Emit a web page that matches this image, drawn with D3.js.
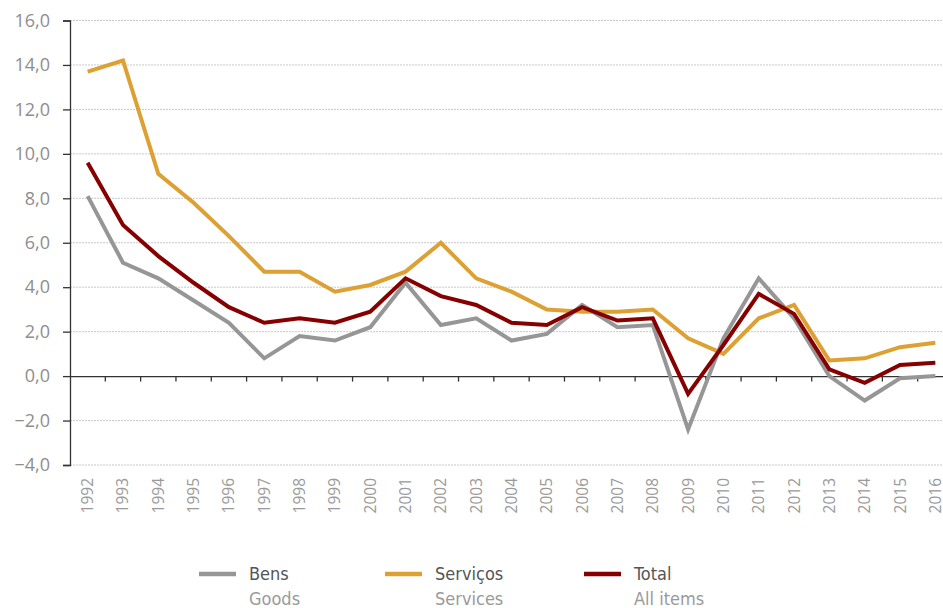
<!DOCTYPE html>
<html>
<head>
<meta charset="utf-8">
<script src="https://cdn.jsdelivr.net/npm/d3@7"></script>
<style>
  html, body { margin: 0; padding: 0; background: #fff; }
  svg { display: block; }
</style>
</head>
<body>
<svg id="chart" width="943" height="608"></svg>
<script>
// Annual inflation rate (%), 1992–2016
const years = ["1992","1993","1994","1995","1996","1997","1998","1999","2000","2001","2002","2003","2004",
               "2005","2006","2007","2008","2009","2010","2011","2012","2013","2014","2015","2016"];
const goods    = [8.1, 5.1, 4.4, 3.4, 2.4, 0.8, 1.8, 1.6, 2.2, 4.2, 2.3, 2.6, 1.6,
                  1.9, 3.2, 2.2, 2.3, -2.4, 1.7, 4.4, 2.6, 0.0, -1.1, -0.1, 0.0];
const services = [13.7, 14.2, 9.1, 7.8, 6.3, 4.7, 4.7, 3.8, 4.1, 4.7, 6.0, 4.4, 3.8,
                  3.0, 2.9, 2.9, 3.0, 1.7, 1.0, 2.6, 3.2, 0.7, 0.8, 1.3, 1.5];
const total    = [9.6, 6.8, 5.4, 4.2, 3.1, 2.4, 2.6, 2.4, 2.9, 4.4, 3.6, 3.2, 2.4,
                  2.3, 3.1, 2.5, 2.6, -0.8, 1.4, 3.7, 2.8, 0.3, -0.3, 0.5, 0.6];
const yTicks = [-4, -2, 0, 2, 4, 6, 8, 10, 12, 14, 16];

const seriesNames = [
  { pt: "Bens",     en: "Goods",     values: goods,    color: "#969696" },
  { pt: "Serviços", en: "Services",  values: services, color: "#DDA032" },
  { pt: "Total",    en: "All items", values: total,    color: "#870000" }
];

const svg = d3.select("#chart");
const plotLeft = 70, plotRight = 953, plotTop = 20.5, plotBottom = 465;

const x = d3.scaleBand().domain(years).range([plotLeft, plotRight]);
const y = d3.scaleLinear().domain([-4, 16]).range([plotBottom, plotTop]);
const fmt = d => d3.format(".1f")(d).replace(".", ",");

// horizontal gridlines
svg.append("g")
  .selectAll("line")
  .data(yTicks.filter(d => d !== 0))
  .join("line")
  .attr("x1", plotLeft).attr("x2", plotRight)
  .attr("y1", d => y(d)).attr("y2", d => y(d))
  .attr("stroke", "#c8c8c8")
  .attr("stroke-width", 1)
  .attr("stroke-dasharray", "2,1");

// y axis
const yAxis = svg.append("g")
  .attr("transform", `translate(${plotLeft},0)`)
  .call(d3.axisLeft(y).tickValues(yTicks).tickFormat(fmt).tickSize(7).tickPadding(13));
yAxis.select(".domain").attr("stroke", "#333").attr("stroke-width", 1.3);
yAxis.selectAll(".tick line").attr("stroke", "#333").attr("stroke-width", 1.3);
yAxis.selectAll("text")
  .attr("fill", "#8e8e8e")
  .attr("font-family", "'Open Sans', 'DejaVu Sans', sans-serif")
  .attr("font-size", 18);

// zero line with category ticks
const xAxis = svg.append("g")
  .attr("transform", `translate(0,${y(0)})`)
  .call(d3.axisBottom(x).tickSize(0).tickFormat(""));
xAxis.select(".domain").attr("stroke", "#333").attr("stroke-width", 1.3);
xAxis.selectAll(".tick").remove();
svg.append("g")
  .selectAll("line")
  .data(years.slice(1))
  .join("line")
  .attr("x1", d => x(d)).attr("x2", d => x(d))
  .attr("y1", y(0)).attr("y2", y(0) + 5.5)
  .attr("stroke", "#333").attr("stroke-width", 1.3);

// rotated year labels below the plot
svg.append("g")
  .selectAll("text")
  .data(years)
  .join("text")
  .attr("transform", d => `translate(${x(d) + x.bandwidth() / 2 + 5.5},${plotBottom + 13}) rotate(-90)`)
  .attr("text-anchor", "end")
  .attr("fill", "#9a9a9a")
  .attr("font-family", "'Open Sans', 'DejaVu Sans', sans-serif")
  .attr("font-size", 15.5)
  .text(d => d);

// series lines
const line = d3.line()
  .x((d, i) => x(years[i]) + x.bandwidth() / 2)
  .y(d => y(d));

svg.append("g")
  .selectAll("path")
  .data(seriesNames)
  .join("path")
  .attr("d", s => line(s.values))
  .attr("fill", "none")
  .attr("stroke", s => s.color)
  .attr("stroke-width", 4)
  .attr("stroke-linejoin", "miter");

// legend
const legendX = [199, 385, 584];
const legend = svg.append("g")
  .selectAll("g")
  .data(seriesNames)
  .join("g")
  .attr("transform", (d, i) => `translate(${legendX[i]},574)`);
legend.append("line")
  .attr("x1", 0).attr("x2", 37)
  .attr("stroke", d => d.color)
  .attr("stroke-width", 4.5);
legend.append("text")
  .attr("x", 50).attr("y", 6)
  .attr("fill", "#555")
  .attr("font-family", "'Liberation Sans Narrow', 'DejaVu Sans Condensed', 'Roboto Condensed', sans-serif")
  .attr("font-size", 18)
  .text(d => d.pt);
legend.append("text")
  .attr("x", 50).attr("y", 31)
  .attr("fill", "#9a9a9a")
  .attr("font-family", "'Liberation Sans Narrow', 'DejaVu Sans Condensed', 'Roboto Condensed', sans-serif")
  .attr("font-size", 18)
  .text(d => d.en);
</script>
</body>
</html>
